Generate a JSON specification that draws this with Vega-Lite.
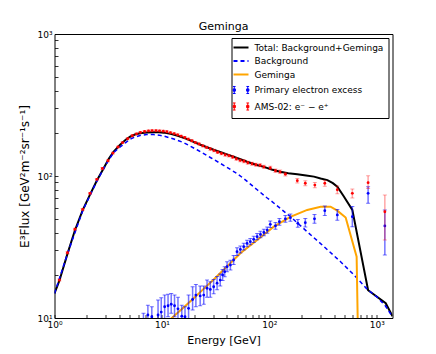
{
  "$schema": "https://vega.github.io/schema/vega-lite/v6.json",
  "width": 338,
  "height": 284,
  "autosize": "none",
  "padding": {"left": 54.5, "top": 34, "right": 43.5, "bottom": 36},
  "background": "white",
  "title": {"text": "Geminga", "fontSize": 11, "fontWeight": "normal", "font": "DejaVu Sans", "color": "black", "offset": -2, "anchor": "middle"},
  "config": {
    "font": "DejaVu Sans",
    "view": {"stroke": "black", "strokeWidth": 1},
    "axis": {"labelFont": "DejaVu Sans", "labelFontSize": 9, "labelColor": "black", "titleFont": "DejaVu Sans", "titleFontSize": 11, "titleFontWeight": "normal", "titleColor": "black", "grid": false, "domain": false, "tickColor": "black", "tickWidth": 0.8, "tickSize": -3.5},
    "legend": {"labelFont": "DejaVu Sans", "labelFontSize": 9, "labelColor": "black"}
  },
  "datasets": {
    "curves": [
      {"series": "Total: Background+Geminga", "E": 1, "F": 14.9},
      {"series": "Total: Background+Geminga", "E": 1.11, "F": 18.3},
      {"series": "Total: Background+Geminga", "E": 1.32, "F": 28.3},
      {"series": "Total: Background+Geminga", "E": 1.55, "F": 41.5},
      {"series": "Total: Background+Geminga", "E": 1.83, "F": 57.5},
      {"series": "Total: Background+Geminga", "E": 2.14, "F": 74},
      {"series": "Total: Background+Geminga", "E": 2.48, "F": 93},
      {"series": "Total: Background+Geminga", "E": 2.86, "F": 113},
      {"series": "Total: Background+Geminga", "E": 3.2, "F": 132},
      {"series": "Total: Background+Geminga", "E": 3.54, "F": 148},
      {"series": "Total: Background+Geminga", "E": 4.08, "F": 166},
      {"series": "Total: Background+Geminga", "E": 4.6, "F": 180},
      {"series": "Total: Background+Geminga", "E": 5.06, "F": 189},
      {"series": "Total: Background+Geminga", "E": 5.6, "F": 196},
      {"series": "Total: Background+Geminga", "E": 6.27, "F": 200},
      {"series": "Total: Background+Geminga", "E": 7.2, "F": 202.5},
      {"series": "Total: Background+Geminga", "E": 8.36, "F": 203},
      {"series": "Total: Background+Geminga", "E": 9.4, "F": 203},
      {"series": "Total: Background+Geminga", "E": 10.4, "F": 202},
      {"series": "Total: Background+Geminga", "E": 12, "F": 198},
      {"series": "Total: Background+Geminga", "E": 13.8, "F": 193},
      {"series": "Total: Background+Geminga", "E": 17.2, "F": 182},
      {"series": "Total: Background+Geminga", "E": 22.8, "F": 166},
      {"series": "Total: Background+Geminga", "E": 30.3, "F": 153},
      {"series": "Total: Background+Geminga", "E": 40.4, "F": 142},
      {"series": "Total: Background+Geminga", "E": 50, "F": 134},
      {"series": "Total: Background+Geminga", "E": 62, "F": 126},
      {"series": "Total: Background+Geminga", "E": 75, "F": 120},
      {"series": "Total: Background+Geminga", "E": 89, "F": 116},
      {"series": "Total: Background+Geminga", "E": 105, "F": 111},
      {"series": "Total: Background+Geminga", "E": 126, "F": 107},
      {"series": "Total: Background+Geminga", "E": 150, "F": 104.5},
      {"series": "Total: Background+Geminga", "E": 182, "F": 103},
      {"series": "Total: Background+Geminga", "E": 220, "F": 101},
      {"series": "Total: Background+Geminga", "E": 260, "F": 99},
      {"series": "Total: Background+Geminga", "E": 300, "F": 96},
      {"series": "Total: Background+Geminga", "E": 347, "F": 93.5},
      {"series": "Total: Background+Geminga", "E": 390, "F": 89},
      {"series": "Total: Background+Geminga", "E": 429, "F": 84},
      {"series": "Total: Background+Geminga", "E": 492, "F": 72},
      {"series": "Total: Background+Geminga", "E": 592, "F": 57.7},
      {"series": "Total: Background+Geminga", "E": 830, "F": 15.7},
      {"series": "Total: Background+Geminga", "E": 1211, "F": 12.7},
      {"series": "Total: Background+Geminga", "E": 1400, "F": 10.3},
      {"series": "Background", "E": 1, "F": 14.9},
      {"series": "Background", "E": 1.32, "F": 28.3},
      {"series": "Background", "E": 1.83, "F": 57},
      {"series": "Background", "E": 2.48, "F": 92},
      {"series": "Background", "E": 3.0, "F": 120},
      {"series": "Background", "E": 3.54, "F": 146},
      {"series": "Background", "E": 4.08, "F": 160},
      {"series": "Background", "E": 4.6, "F": 172},
      {"series": "Background", "E": 5.06, "F": 182},
      {"series": "Background", "E": 5.6, "F": 188},
      {"series": "Background", "E": 6.27, "F": 193},
      {"series": "Background", "E": 7.2, "F": 196},
      {"series": "Background", "E": 8.36, "F": 196},
      {"series": "Background", "E": 9.4, "F": 194},
      {"series": "Background", "E": 10.4, "F": 191},
      {"series": "Background", "E": 12.9, "F": 182},
      {"series": "Background", "E": 15.9, "F": 172},
      {"series": "Background", "E": 21.2, "F": 153},
      {"series": "Background", "E": 28.2, "F": 135},
      {"series": "Background", "E": 37.5, "F": 119},
      {"series": "Background", "E": 50, "F": 104},
      {"series": "Background", "E": 57.7, "F": 96},
      {"series": "Background", "E": 77, "F": 80},
      {"series": "Background", "E": 95.5, "F": 70},
      {"series": "Background", "E": 106, "F": 66},
      {"series": "Background", "E": 157, "F": 51.7},
      {"series": "Background", "E": 225, "F": 40.5},
      {"series": "Background", "E": 323, "F": 31.8},
      {"series": "Background", "E": 460, "F": 24.9},
      {"series": "Background", "E": 614, "F": 20.1},
      {"series": "Background", "E": 817, "F": 15.9},
      {"series": "Background", "E": 1010, "F": 14.0},
      {"series": "Background", "E": 1200, "F": 12.2},
      {"series": "Background", "E": 1400, "F": 10.2},
      {"series": "Geminga", "E": 12.0, "F": 9.8},
      {"series": "Geminga", "E": 16, "F": 11.9},
      {"series": "Geminga", "E": 20, "F": 13.9},
      {"series": "Geminga", "E": 25, "F": 16.3},
      {"series": "Geminga", "E": 30, "F": 18.5},
      {"series": "Geminga", "E": 39, "F": 22.5},
      {"series": "Geminga", "E": 53.7, "F": 28.6},
      {"series": "Geminga", "E": 77, "F": 35.4},
      {"series": "Geminga", "E": 110, "F": 44},
      {"series": "Geminga", "E": 157, "F": 51.5},
      {"series": "Geminga", "E": 225, "F": 57.7},
      {"series": "Geminga", "E": 300, "F": 60.8},
      {"series": "Geminga", "E": 371, "F": 60.8},
      {"series": "Geminga", "E": 429, "F": 57},
      {"series": "Geminga", "E": 513, "F": 51},
      {"series": "Geminga", "E": 649, "F": 27},
      {"series": "Geminga", "E": 682, "F": 3}
    ],
    "excess": [
      {"series": "Primary electron excess", "E": 6.73, "F": 9.0, "lo": 7, "hi": 10.8},
      {"series": "Primary electron excess", "E": 7.4, "F": 10.5, "lo": 8, "hi": 12.3},
      {"series": "Primary electron excess", "E": 8.05, "F": 10.2, "lo": 8, "hi": 12.0},
      {"series": "Primary electron excess", "E": 9.2, "F": 10.5, "lo": 8, "hi": 13.4},
      {"series": "Primary electron excess", "E": 9.85, "F": 11.0, "lo": 8.5, "hi": 13.9},
      {"series": "Primary electron excess", "E": 10.6, "F": 12.0, "lo": 9.5, "hi": 14.5},
      {"series": "Primary electron excess", "E": 11.4, "F": 12.2, "lo": 10.2, "hi": 14.7},
      {"series": "Primary electron excess", "E": 12.2, "F": 12.5, "lo": 10.8, "hi": 14.9},
      {"series": "Primary electron excess", "E": 13.1, "F": 12.2, "lo": 10.2, "hi": 14.5},
      {"series": "Primary electron excess", "E": 14.1, "F": 11.6, "lo": 9.5, "hi": 14.0},
      {"series": "Primary electron excess", "E": 15.3, "F": 10.3, "lo": 8.5, "hi": 12.3},
      {"series": "Primary electron excess", "E": 16.4, "F": 10.2, "lo": 8.5, "hi": 12.0},
      {"series": "Primary electron excess", "E": 17.7, "F": 11.7, "lo": 9.5, "hi": 14.5},
      {"series": "Primary electron excess", "E": 19.3, "F": 13.5, "lo": 11.4, "hi": 16.6},
      {"series": "Primary electron excess", "E": 20.7, "F": 14.5, "lo": 12.0, "hi": 17.2},
      {"series": "Primary electron excess", "E": 22.7, "F": 14.3, "lo": 12.2, "hi": 16.8},
      {"series": "Primary electron excess", "E": 24.5, "F": 14.5, "lo": 12.5, "hi": 16.8},
      {"series": "Primary electron excess", "E": 26.3, "F": 16.2, "lo": 14.0, "hi": 18.5},
      {"series": "Primary electron excess", "E": 28.2, "F": 15.9, "lo": 14.0, "hi": 18.0},
      {"series": "Primary electron excess", "E": 30.3, "F": 16.6, "lo": 14.8, "hi": 18.7},
      {"series": "Primary electron excess", "E": 32.6, "F": 17.6, "lo": 15.8, "hi": 19.6},
      {"series": "Primary electron excess", "E": 34.9, "F": 18.5, "lo": 16.8, "hi": 20.4},
      {"series": "Primary electron excess", "E": 36.7, "F": 20.1, "lo": 18.4, "hi": 22.0},
      {"series": "Primary electron excess", "E": 38.4, "F": 21.2, "lo": 19.5, "hi": 23.0},
      {"series": "Primary electron excess", "E": 40.4, "F": 23.0, "lo": 21.2, "hi": 24.9},
      {"series": "Primary electron excess", "E": 43.4, "F": 23.6, "lo": 21.8, "hi": 25.5},
      {"series": "Primary electron excess", "E": 46.5, "F": 25.6, "lo": 23.8, "hi": 27.5},
      {"series": "Primary electron excess", "E": 50.0, "F": 29.3, "lo": 27.5, "hi": 31.2},
      {"series": "Primary electron excess", "E": 53.7, "F": 30.4, "lo": 28.7, "hi": 32.2},
      {"series": "Primary electron excess", "E": 57.7, "F": 31.8, "lo": 30.1, "hi": 33.6},
      {"series": "Primary electron excess", "E": 62, "F": 33.5, "lo": 31.8, "hi": 35.3},
      {"series": "Primary electron excess", "E": 66.5, "F": 34.5, "lo": 32.8, "hi": 36.3},
      {"series": "Primary electron excess", "E": 71.5, "F": 35.8, "lo": 34.0, "hi": 37.7},
      {"series": "Primary electron excess", "E": 76.9, "F": 37.4, "lo": 35.5, "hi": 39.4},
      {"series": "Primary electron excess", "E": 82.6, "F": 38.8, "lo": 36.8, "hi": 40.9},
      {"series": "Primary electron excess", "E": 88.9, "F": 40, "lo": 38, "hi": 42.1},
      {"series": "Primary electron excess", "E": 95.5, "F": 41.6, "lo": 39.5, "hi": 43.8},
      {"series": "Primary electron excess", "E": 102, "F": 45.7, "lo": 43.3, "hi": 48.2},
      {"series": "Primary electron excess", "E": 114, "F": 44.6, "lo": 42.2, "hi": 47.1},
      {"series": "Primary electron excess", "E": 124, "F": 47.6, "lo": 45.0, "hi": 50.3},
      {"series": "Primary electron excess", "E": 141, "F": 49.9, "lo": 47.2, "hi": 52.7},
      {"series": "Primary electron excess", "E": 157, "F": 50.9, "lo": 48.0, "hi": 53.9},
      {"series": "Primary electron excess", "E": 184, "F": 46.4, "lo": 43.5, "hi": 49.4},
      {"series": "Primary electron excess", "E": 216, "F": 46.9, "lo": 43.8, "hi": 50.1},
      {"series": "Primary electron excess", "E": 263, "F": 49.9, "lo": 46.4, "hi": 53.5},
      {"series": "Primary electron excess", "E": 328, "F": 57, "lo": 52.8, "hi": 61.4},
      {"series": "Primary electron excess", "E": 429, "F": 53.2, "lo": 48.8, "hi": 58.0},
      {"series": "Primary electron excess", "E": 592, "F": 51.7, "lo": 44, "hi": 61},
      {"series": "Primary electron excess", "E": 830, "F": 75.5, "lo": 64.3, "hi": 84},
      {"series": "Primary electron excess", "E": 1188, "F": 44.5, "lo": 27.8, "hi": 57.7}
    ],
    "ams": [
      {"series": "AMS-02: e⁻ − e⁺", "E": 1.11, "F": 18.5, "lo": 18.2, "hi": 18.8},
      {"series": "AMS-02: e⁻ − e⁺", "E": 1.32, "F": 28.8, "lo": 28.3, "hi": 29.3},
      {"series": "AMS-02: e⁻ − e⁺", "E": 1.55, "F": 42.2, "lo": 41.5, "hi": 42.9},
      {"series": "AMS-02: e⁻ − e⁺", "E": 1.83, "F": 58.2, "lo": 57.3, "hi": 59.1},
      {"series": "AMS-02: e⁻ − e⁺", "E": 2.14, "F": 75.5, "lo": 74.4, "hi": 76.6},
      {"series": "AMS-02: e⁻ − e⁺", "E": 2.48, "F": 94.8, "lo": 93.4, "hi": 96.2},
      {"series": "AMS-02: e⁻ − e⁺", "E": 2.79, "F": 113, "lo": 111.3, "hi": 114.7},
      {"series": "AMS-02: e⁻ − e⁺", "E": 3.15, "F": 128, "lo": 126, "hi": 130},
      {"series": "AMS-02: e⁻ − e⁺", "E": 3.5, "F": 145, "lo": 143, "hi": 147},
      {"series": "AMS-02: e⁻ − e⁺", "E": 3.9, "F": 160, "lo": 158, "hi": 162},
      {"series": "AMS-02: e⁻ − e⁺", "E": 4.3, "F": 172, "lo": 169.5, "hi": 174.5},
      {"series": "AMS-02: e⁻ − e⁺", "E": 4.8, "F": 183, "lo": 180.3, "hi": 185.7},
      {"series": "AMS-02: e⁻ − e⁺", "E": 5.3, "F": 192, "lo": 189, "hi": 195},
      {"series": "AMS-02: e⁻ − e⁺", "E": 5.8, "F": 198, "lo": 195, "hi": 201},
      {"series": "AMS-02: e⁻ − e⁺", "E": 6.3, "F": 203, "lo": 200, "hi": 206},
      {"series": "AMS-02: e⁻ − e⁺", "E": 6.9, "F": 206, "lo": 203, "hi": 209},
      {"series": "AMS-02: e⁻ − e⁺", "E": 7.5, "F": 208, "lo": 205, "hi": 211},
      {"series": "AMS-02: e⁻ − e⁺", "E": 8.1, "F": 209, "lo": 206, "hi": 212},
      {"series": "AMS-02: e⁻ − e⁺", "E": 8.8, "F": 209, "lo": 206, "hi": 212},
      {"series": "AMS-02: e⁻ − e⁺", "E": 9.5, "F": 208, "lo": 205, "hi": 211},
      {"series": "AMS-02: e⁻ − e⁺", "E": 10.3, "F": 207, "lo": 204, "hi": 210},
      {"series": "AMS-02: e⁻ − e⁺", "E": 11.1, "F": 205, "lo": 202, "hi": 208},
      {"series": "AMS-02: e⁻ − e⁺", "E": 12.0, "F": 202, "lo": 199, "hi": 205},
      {"series": "AMS-02: e⁻ − e⁺", "E": 13.0, "F": 199, "lo": 196, "hi": 202},
      {"series": "AMS-02: e⁻ − e⁺", "E": 14.0, "F": 195, "lo": 192, "hi": 198},
      {"series": "AMS-02: e⁻ − e⁺", "E": 15.1, "F": 191, "lo": 188, "hi": 194},
      {"series": "AMS-02: e⁻ − e⁺", "E": 16.3, "F": 187, "lo": 184, "hi": 190},
      {"series": "AMS-02: e⁻ − e⁺", "E": 17.6, "F": 182, "lo": 179, "hi": 185},
      {"series": "AMS-02: e⁻ − e⁺", "E": 19.0, "F": 177, "lo": 174, "hi": 180},
      {"series": "AMS-02: e⁻ − e⁺", "E": 20.5, "F": 172, "lo": 169, "hi": 175},
      {"series": "AMS-02: e⁻ − e⁺", "E": 22.2, "F": 168, "lo": 165, "hi": 171},
      {"series": "AMS-02: e⁻ − e⁺", "E": 24.0, "F": 163, "lo": 160, "hi": 166},
      {"series": "AMS-02: e⁻ − e⁺", "E": 26.0, "F": 159, "lo": 156, "hi": 162},
      {"series": "AMS-02: e⁻ − e⁺", "E": 28.2, "F": 155, "lo": 152, "hi": 158},
      {"series": "AMS-02: e⁻ − e⁺", "E": 30.5, "F": 151, "lo": 148, "hi": 154},
      {"series": "AMS-02: e⁻ − e⁺", "E": 33.0, "F": 147, "lo": 144, "hi": 150},
      {"series": "AMS-02: e⁻ − e⁺", "E": 35.8, "F": 144, "lo": 141, "hi": 147},
      {"series": "AMS-02: e⁻ − e⁺", "E": 38.8, "F": 141, "lo": 138, "hi": 144},
      {"series": "AMS-02: e⁻ − e⁺", "E": 42.0, "F": 139, "lo": 136, "hi": 142},
      {"series": "AMS-02: e⁻ − e⁺", "E": 45.5, "F": 136, "lo": 133, "hi": 139},
      {"series": "AMS-02: e⁻ − e⁺", "E": 49.3, "F": 132, "lo": 129, "hi": 135},
      {"series": "AMS-02: e⁻ − e⁺", "E": 53.5, "F": 129, "lo": 126, "hi": 132},
      {"series": "AMS-02: e⁻ − e⁺", "E": 58, "F": 127, "lo": 124, "hi": 130},
      {"series": "AMS-02: e⁻ − e⁺", "E": 63, "F": 124, "lo": 121, "hi": 127},
      {"series": "AMS-02: e⁻ − e⁺", "E": 69, "F": 122, "lo": 119, "hi": 125},
      {"series": "AMS-02: e⁻ − e⁺", "E": 75, "F": 120, "lo": 117, "hi": 123},
      {"series": "AMS-02: e⁻ − e⁺", "E": 82, "F": 119, "lo": 116, "hi": 122},
      {"series": "AMS-02: e⁻ − e⁺", "E": 89, "F": 116, "lo": 113, "hi": 119},
      {"series": "AMS-02: e⁻ − e⁺", "E": 102, "F": 114, "lo": 111, "hi": 117},
      {"series": "AMS-02: e⁻ − e⁺", "E": 114, "F": 109, "lo": 106, "hi": 112},
      {"series": "AMS-02: e⁻ − e⁺", "E": 126, "F": 107, "lo": 104, "hi": 110},
      {"series": "AMS-02: e⁻ − e⁺", "E": 141, "F": 103, "lo": 100, "hi": 106},
      {"series": "AMS-02: e⁻ − e⁺", "E": 182, "F": 92.7, "lo": 89.2, "hi": 96.2},
      {"series": "AMS-02: e⁻ − e⁺", "E": 216, "F": 88.9, "lo": 85.3, "hi": 92.5},
      {"series": "AMS-02: e⁻ − e⁺", "E": 265, "F": 86.3, "lo": 82.6, "hi": 90},
      {"series": "AMS-02: e⁻ − e⁺", "E": 328, "F": 88.9, "lo": 84.8, "hi": 93},
      {"series": "AMS-02: e⁻ − e⁺", "E": 429, "F": 80, "lo": 75, "hi": 85},
      {"series": "AMS-02: e⁻ − e⁺", "E": 592, "F": 75.5, "lo": 70, "hi": 81},
      {"series": "AMS-02: e⁻ − e⁺", "E": 830, "F": 89.8, "lo": 81.8, "hi": 100.6},
      {"series": "AMS-02: e⁻ − e⁺", "E": 1188, "F": 56, "lo": 35.4, "hi": 73.5}
    ]
  },
  "encoding": {
    "x": {"field": "E", "type": "quantitative",
      "scale": {"type": "log", "domain": [1, 1400], "nice": false},
      "axis": {"title": "Energy [GeV]", "values": [1,2,3,4,5,6,7,8,9,10,20,30,40,50,60,70,80,90,100,200,300,400,500,600,700,800,900,1000],
        "labelExpr": "datum.value==1?'10⁰':datum.value==10?'10¹':datum.value==100?'10²':datum.value==1000?'10³':''",
        "labelPadding": 6, "titlePadding": 5, "labelFlush": false, "labelOverlap": false}},
    "color": {"field": "series", "type": "nominal",
      "scale": {"domain": ["Total: Background+Geminga", "Background", "Geminga", "Primary electron excess", "AMS-02: e⁻ − e⁺"], "range": ["black", "blue", "orange", "blue", "red"]},
      "legend": {"title": null, "orient": "top-right", "offset": 4, "strokeColor": "black", "fillColor": "white", "padding": 5, "rowPadding": 3.5, "labelOffset": 9, "labelLimit": 300, "symbolSize": 225, "symbolType": "stroke", "symbolStrokeWidth": 2, "symbolOpacity": 1, "cornerRadius": 0,
        "encode": {"symbols": {"update": {
          "shape": {"signal": "(datum.value == 'Primary electron excess' || datum.value == 'AMS-02: e⁻ − e⁺') ? 'M-0.9,-0.47V0.47M0.9,-0.47V0.47M-1.08,-0.47H-0.72M-1.08,0.47H-0.72M0.72,-0.47H1.08M0.72,0.47H1.08M-1.05,-0.15H-0.75V0.15H-1.05ZM0.75,-0.15H1.05V0.15H0.75Z' : 'M-1,0H1'"},
          "strokeDash": {"signal": "datum.value == 'Background' ? [4, 3] : [100, 0]"},
          "strokeWidth": {"signal": "(datum.value == 'Primary electron excess' || datum.value == 'AMS-02: e⁻ − e⁺') ? 1 : 2"}
        }}}}
    }
  },
  "layer": [
    {
      "data": {"name": "curves"},
      "transform": [{"filter": "datum.series === 'Total: Background+Geminga'"}],
      "mark": {"type": "line", "strokeWidth": 2, "clip": true},
      "encoding": {
        "y": {"field": "F", "type": "quantitative",
          "scale": {"type": "log", "domain": [10, 1000], "nice": false},
          "axis": {"title": "E³Flux [GeV²m⁻²sr⁻¹s⁻¹]", "titleFontSize": 12, "values": [10,20,30,40,50,60,70,80,90,100,200,300,400,500,600,700,800,900,1000],
            "labelExpr": "datum.value==10?'10¹':datum.value==100?'10²':datum.value==1000?'10³':''",
            "labelPadding": 6, "titlePadding": 5, "labelFlush": false, "labelOverlap": false}}
      }
    },
    {
      "data": {"name": "curves"},
      "transform": [{"filter": "datum.series === 'Background'"}],
      "mark": {"type": "line", "strokeWidth": 1.5, "strokeDash": [4, 3], "clip": true},
      "encoding": {"y": {"field": "F", "type": "quantitative"}}
    },
    {
      "data": {"name": "curves"},
      "transform": [{"filter": "datum.series === 'Geminga'"}],
      "mark": {"type": "line", "strokeWidth": 2, "clip": true},
      "encoding": {"y": {"field": "F", "type": "quantitative"}}
    },
    {
      "data": {"name": "excess"},
      "mark": {"type": "rule", "strokeWidth": 1.5, "opacity": 0.55, "clip": true},
      "encoding": {"y": {"field": "lo", "type": "quantitative"}, "y2": {"field": "hi"}}
    },
    {
      "data": {"name": "excess"},
      "mark": {"type": "tick", "orient": "horizontal", "size": 4, "thickness": 1, "opacity": 0.55, "clip": true},
      "encoding": {"y": {"field": "lo", "type": "quantitative"}}
    },
    {
      "data": {"name": "excess"},
      "mark": {"type": "tick", "orient": "horizontal", "size": 4, "thickness": 1, "opacity": 0.55, "clip": true},
      "encoding": {"y": {"field": "hi", "type": "quantitative"}}
    },
    {
      "data": {"name": "excess"},
      "mark": {"type": "circle", "size": 8, "opacity": 1, "clip": true},
      "encoding": {"y": {"field": "F", "type": "quantitative"}}
    },
    {
      "data": {"name": "ams"},
      "mark": {"type": "rule", "strokeWidth": 1.5, "opacity": 0.35, "clip": true},
      "encoding": {"y": {"field": "lo", "type": "quantitative"}, "y2": {"field": "hi"}}
    },
    {
      "data": {"name": "ams"},
      "mark": {"type": "tick", "orient": "horizontal", "size": 4, "thickness": 1, "opacity": 0.35, "clip": true},
      "encoding": {"y": {"field": "lo", "type": "quantitative"}}
    },
    {
      "data": {"name": "ams"},
      "mark": {"type": "tick", "orient": "horizontal", "size": 4, "thickness": 1, "opacity": 0.35, "clip": true},
      "encoding": {"y": {"field": "hi", "type": "quantitative"}}
    },
    {
      "data": {"name": "ams"},
      "mark": {"type": "circle", "size": 8, "opacity": 1, "clip": true},
      "encoding": {"y": {"field": "F", "type": "quantitative"}}
    }
  ]
}
